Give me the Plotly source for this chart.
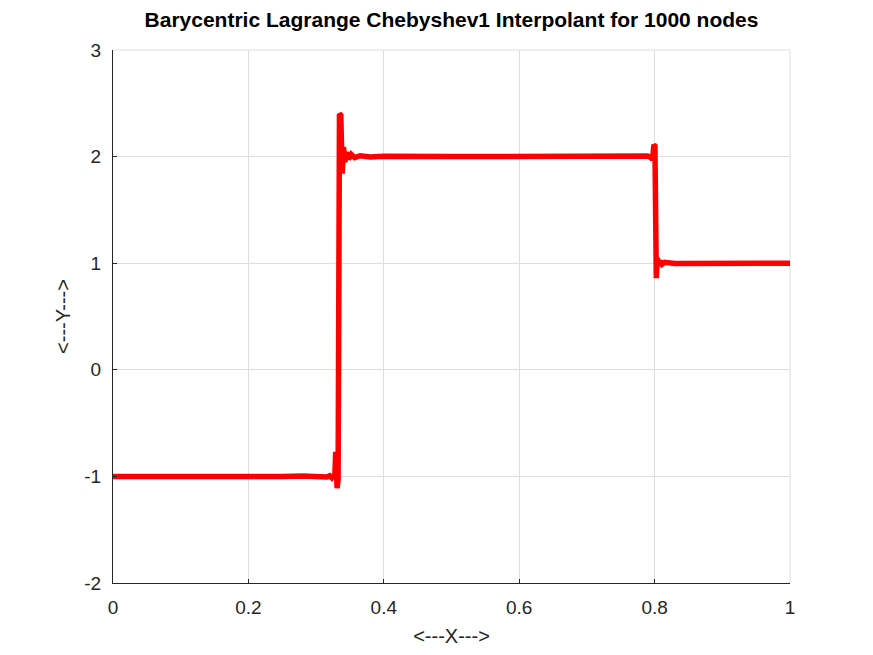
import plotly.graph_objects as go

# Interpolant samples
x_vals = [0.000, 0.050, 0.100, 0.150, 0.200, 0.250, 0.280, 0.300, 0.310, 0.316, 0.320,
          0.323, 0.3255, 0.3275, 0.3290, 0.3310, 0.3325, 0.3345, 0.3365, 0.3385,
          0.3405, 0.3425, 0.3450, 0.3480, 0.3520, 0.3570, 0.3650, 0.3800, 0.4000,
          0.5000, 0.6000, 0.7000, 0.7600, 0.7800, 0.7900, 0.7950, 0.7970, 0.7990,
          0.8005, 0.8025, 0.8040, 0.8060, 0.8080, 0.8110, 0.8150, 0.8300, 0.9000, 1.0000]
y_vals = [-1.000, -1.002, -0.998, -1.003, -0.999, -1.002, -0.997, -1.003, -0.996, -1.006, -0.994,
          -1.012, -0.985, -1.025, -0.770, -1.110, -1.030, 2.400, 2.390, 1.840,
          2.090, 1.950, 2.040, 1.975, 2.020, 1.990, 2.008, 1.997, 2.003,
          2.000, 2.000, 2.000, 2.003, 1.997, 2.005, 1.990, 1.970, 2.110,
          2.100, 0.860, 1.050, 0.980, 1.020, 0.990, 1.008, 0.997, 1.000, 1.000]

x_ticks = [0, 0.2, 0.4, 0.6, 0.8, 1]
x_tick_text = ["0", "0.2", "0.4", "0.6", "0.8", "1"]
y_ticks = [-2, -1, 0, 1, 2, 3]
y_tick_text = ["-2", "-1", "0", "1", "2", "3"]

title_text = "Barycentric Lagrange Chebyshev1 Interpolant for 1000 nodes"
x_label = "<---X--->"
y_label = "<---Y--->"

FONT = "Liberation Sans, Arial, Helvetica, sans-serif"
AX = "#262626"
GRID = "#dedede"

# the page body adds an 8px offset, so margins are reduced accordingly
fig = go.Figure()
fig.add_trace(go.Scatter(
    x=x_vals, y=y_vals, mode="lines",
    line=dict(color="#ff0000", width=5.5),
    hoverinfo="skip", showlegend=False,
))

fig.update_layout(
    width=873, height=655,
    margin=dict(l=105, r=91, t=42, b=80, pad=0),
    paper_bgcolor="white", plot_bgcolor="white",
    font=dict(family=FONT, color=AX),
    title=dict(
        text="<b>" + title_text + "</b>",
        x=443.5 / 873, xanchor="center", xref="container",
        y=1 - 4 / 655, yanchor="top", yref="container",
        font=dict(size=21, color="#000000", family=FONT),
    ),
)
fig.update_xaxes(
    range=[0, 1], tickvals=x_ticks, ticktext=x_tick_text,
    showgrid=True, gridcolor=GRID, gridwidth=1,
    showline=True, linecolor=AX, linewidth=1, mirror=False,
    ticks="inside", ticklen=4, tickcolor=AX, tickwidth=1,
    tickfont=dict(size=19, color=AX), ticklabelstandoff=7,
    zeroline=False,
    title=dict(text=x_label, font=dict(size=20, color=AX), standoff=12),
)
fig.update_yaxes(
    range=[-2, 3], tickvals=y_ticks, ticktext=y_tick_text,
    showgrid=True, gridcolor=GRID, gridwidth=1,
    showline=True, linecolor=AX, linewidth=1, mirror=False,
    ticks="inside", ticklen=4, tickcolor=AX, tickwidth=1,
    tickfont=dict(size=19, color=AX), ticklabelstandoff=7,
    zeroline=False,
    title=dict(text=y_label, font=dict(size=20, color=AX), standoff=8),
)
fig.add_shape(type="line", xref="paper", yref="paper", x0=0, x1=1, y0=1, y1=1,
              line=dict(color=GRID, width=1), layer="below")
fig.add_shape(type="line", xref="paper", yref="paper", x0=1, x1=1, y0=0, y1=1,
              line=dict(color=GRID, width=1), layer="below")

fig.write_html("out.html")
